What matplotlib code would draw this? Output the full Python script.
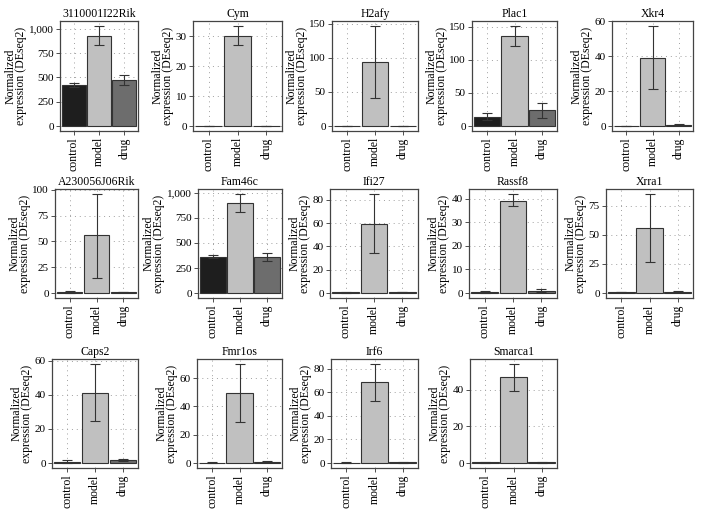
import numpy as np
import matplotlib.pyplot as plt
from matplotlib.ticker import FuncFormatter

plt.rcParams['font.family'] = ['Liberation Serif', 'DejaVu Serif']

# Data
groups = ['control', 'model', 'drug']
genes = ['3110001I22Rik', 'Cym', 'H2afy', 'Plac1', 'Xkr4',
         'A230056J06Rik', 'Fam46c', 'Ifi27', 'Rassf8', 'Xrra1',
         'Caps2', 'Fmr1os', 'Irf6', 'Smarca1']
means = [[420, 925, 470], [0.1, 30.2, 0.05], [0.5, 94, 0.3], [14, 136, 24], [0.1, 39, 0.6],
         [0.8, 56, 1.0], [365, 900, 360], [0.5, 59.5, 0.8], [0.5, 39, 1.0], [1.0, 56, 1.2],
         [0.8, 41, 1.6], [0.3, 49.5, 1.0], [0.3, 68.5, 0.5], [0.3, 47, 0.4]]
lower = [[402, 830, 420], [0.05, 27, 0.02], [0.3, 41, 0.2], [9, 121, 12], [0.05, 21, 0.3],
         [0.3, 15, 0.7], [350, 810, 320], [0.3, 34, 0.5], [0.2, 37, 0.5], [0.8, 27, 1.0],
         [0.3, 24.5, 1.1], [0.2, 29, 0.6], [0.2, 53, 0.3], [0.2, 39, 0.2]]
upper = [[440, 1030, 530], [0.15, 33.5, 0.08], [0.7, 147, 0.4], [20, 151, 35], [0.15, 57.2, 0.9],
         [1.5, 96, 1.3], [380, 990, 400], [0.8, 85, 1.1], [0.8, 42, 1.8], [1.2, 85, 1.5],
         [1.5, 58, 2.2], [0.5, 70, 1.6], [0.5, 84, 0.8], [0.5, 54, 0.7]]
tick_steps = [250, 10, 50, 50, 20,
              25, 250, 20, 10, 25,
              20, 20, 20, 20]

bar_colors = ['#1e1e1e', '#c0c0c0', '#6d6d6d']

# panel placement in pixels (left, right) per column, (top, bottom) per row
W, H = 702, 514
lefts = [[60, 193, 332, 472, 612],
         [55, 198, 330, 469, 606],
         [52, 197, 331, 470]]
rights = [138, 282, 418, 557, 693]
rows_y = [(21, 131), (189, 298), (359, 468)]

fig = plt.figure(figsize=(W / 100, H / 100), dpi=100)

k = 0
for r, row_lefts in enumerate(lefts):
    top, bottom = rows_y[r]
    for c, left in enumerate(row_lefts):
        ax = fig.add_axes([left / W, 1 - bottom / H, (rights[c] - left) / W, (bottom - top) / H])
        x = np.arange(1, 4)
        m = np.array(means[k])
        lo = np.array(lower[k])
        hi = np.array(upper[k])
        ax.bar(x, m, width=0.95, color=bar_colors, edgecolor='#333333', linewidth=0.8, zorder=2)
        ax.errorbar(x, m, yerr=[m - lo, hi - m], fmt='none', ecolor='#333333',
                    elinewidth=0.8, capsize=3.5, capthick=0.8, zorder=3)
        ymax = hi.max()
        ax.set_xlim(0.45, 3.55)
        ax.set_ylim(-0.05 * ymax, 1.05 * ymax)
        step = tick_steps[k]
        ax.set_yticks(np.arange(0, 1.05 * ymax + 0.01 * step, step))
        ax.yaxis.set_major_formatter(FuncFormatter(lambda v, p: '{:,.0f}'.format(v)))
        ax.set_xticks(x)
        ax.set_xticklabels(groups, rotation=90, fontsize=8.5)
        ax.tick_params(axis='y', labelsize=8)
        ax.tick_params(length=3, width=0.6, color='#333333', pad=1.5)
        ax.grid(True, linestyle=(0, (1, 4)), color='#a0a0a0', linewidth=0.7, zorder=0)
        ax.set_axisbelow(True)
        for s in ax.spines.values():
            s.set_color('#444444')
            s.set_linewidth(0.9)
        ax.set_title(genes[k], fontsize=8.5, pad=3)
        ax.set_ylabel('Normalized\nexpression (DEseq2)', fontsize=8.5, labelpad=1, linespacing=0.82)
        k += 1

plt.savefig('out.png', dpi=100)
